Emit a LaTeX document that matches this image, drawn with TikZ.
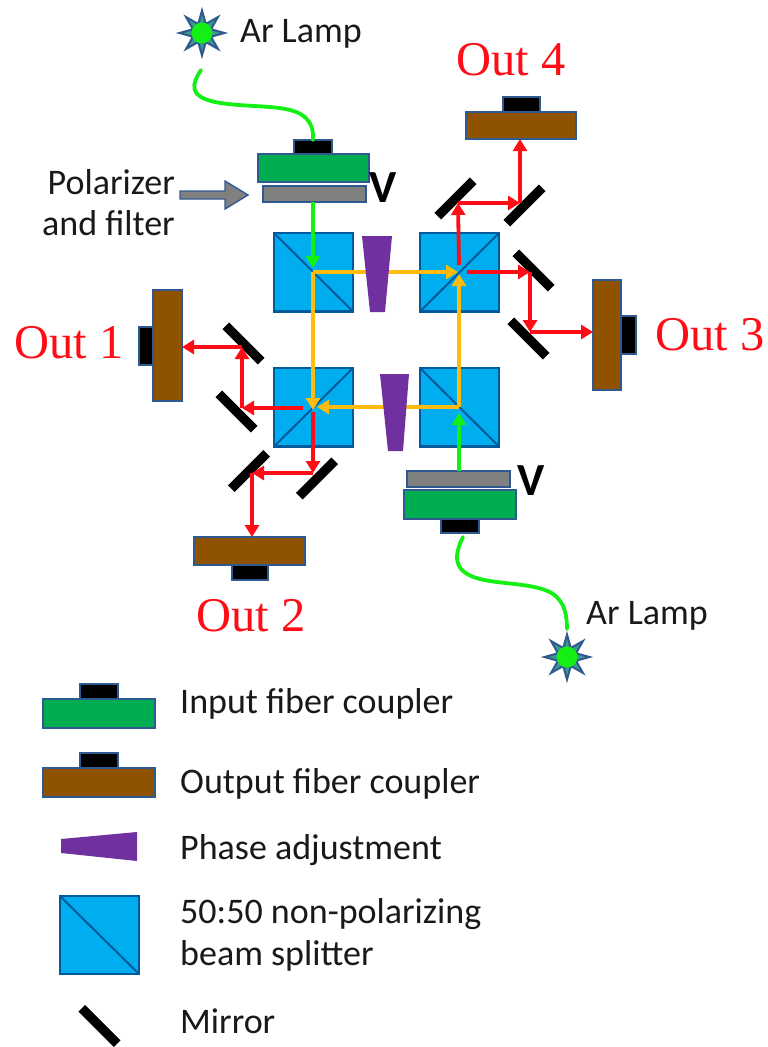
\documentclass[tikz,border=0pt]{standalone}
\usepackage{fontspec}
\setmainfont{Carlito}
\newfontfamily\outfont{Liberation Serif}
\usetikzlibrary{arrows.meta,shapes.geometric}
\definecolor{edgeblue}{HTML}{2F5A8F}
\definecolor{bsblue}{HTML}{00AEEF}
\definecolor{bsedge}{HTML}{005A9C}
\definecolor{coupgreen}{HTML}{00AD50}
\definecolor{coupbrown}{HTML}{8F5200}
\definecolor{prism}{HTML}{7030A0}
\definecolor{gold}{HTML}{FFBC0F}
\definecolor{beamgreen}{HTML}{14F014}
\definecolor{beamred}{HTML}{FF0D17}
\definecolor{polgrey}{HTML}{808080}
\definecolor{startl}{HTML}{3C9A8C}
\tikzset{
  block/.style={draw=edgeblue,line width=1.8pt,inner sep=0pt,outer sep=0pt},
  infill/.style={block,fill=coupgreen},
  outfill/.style={block,fill=coupbrown},
  plug/.style={block,fill=black},
  polfill/.style={block,fill=polgrey},
  bscube/.style={draw=bsedge,line width=2.8pt,fill=bsblue,inner sep=0pt,outer sep=0pt},
  bsdiag/.style={draw=bsedge,line width=2pt},
  mirrorbar/.style={fill=black,inner sep=0pt,outer sep=0pt,minimum width=50pt,minimum height=9.5pt},
  rbeam/.style={draw=beamred,line width=3.8pt,-{Triangle[length=12pt,width=14pt]}},
  ybeam/.style={draw=gold,line width=3.8pt,-{Triangle[length=12pt,width=14pt]}},
  gbeam/.style={draw=beamgreen,line width=3.8pt,-{Triangle[length=12pt,width=14pt]}},
  fiber/.style={draw=beamgreen,line width=3.8pt,line cap=round},
  prismfill/.style={fill=prism},
  lampstar/.style={star,star points=8,star point ratio=2.3,minimum size=45pt,inner sep=0pt,draw=edgeblue,line width=2pt,fill=startl},
  lampcore/.style={circle,fill=beamgreen,minimum size=21pt,inner sep=0pt},
  lab/.style={anchor=base west,inner sep=0pt,text=black!90,font=\fontsize{36}{40}\selectfont},
  outlab/.style={anchor=base west,inner sep=0pt,text=beamred,font=\outfont\fontsize{48.5}{52}\selectfont},
  vlab/.style={anchor=base west,inner sep=0pt,font=\bfseries\fontsize{46}{48}\selectfont},
}
\newcommand{\rbox}[6]{% style, name, x1,y1,x2,y2
  \pgfmathsetmacro{\rbw}{#5-#3}\pgfmathsetmacro{\rbh}{#6-#4}
  \pgfmathsetmacro{\rbx}{(#3+#5)/2}\pgfmathsetmacro{\rby}{(#4+#6)/2}
  \node[#1,minimum width=\rbw pt,minimum height=\rbh pt] (#2) at (\rbx,\rby) {};
}
\begin{document}
\begin{tikzpicture}[x=1pt,y=-1pt]
\useasboundingbox (0,0) rectangle (768,1047);
% junctions
\coordinate (tl) at (313,272);
\coordinate (trin) at (458,272);
\coordinate (trup) at (459,265);
\coordinate (tror) at (467,272);
\coordinate (trv) at (459,274);
\coordinate (br) at (459,407);
\coordinate (blh) at (317,407);
\coordinate (blv) at (313,410);
\coordinate (blo) at (303,408);
\coordinate (bld) at (313,412);
\coordinate (gin1) at (313,202);
\coordinate (gin2) at (459,471);
\coordinate (gt1) at (313,268);
\coordinate (gt2) at (459,413);
\coordinate (m1) at (458,203);
\coordinate (m2) at (520,203);
\coordinate (m3) at (530,272);
\coordinate (m4) at (530,332);
\coordinate (m5) at (242,408);
\coordinate (m6) at (242,347);
\coordinate (m7) at (313,473);
\coordinate (m8) at (252,473);
\coordinate (fa1) at (201,70);
\coordinate (fa2) at (463,537);
% cubes
\foreach \nm/\xa/\ya in {bsa/274/233,bsb/420/233,bsc/274/368,bsd/420/368}{
  \pgfmathsetmacro{\xb}{\xa+79}\pgfmathsetmacro{\yb}{\ya+78.5}
  \rbox{bscube}{\nm}{\xa}{\ya}{\xb}{\yb}
}
\draw[bsdiag] (bsa.north west) -- (bsa.south east);
\draw[bsdiag] (bsb.south west) -- (bsb.north east);
\draw[bsdiag] (bsc.south west) -- (bsc.north east);
\draw[bsdiag] (bsd.north west) -- (bsd.south east);
% couplers
\rbox{plug}{ip1}{294}{140}{332}{154}
\rbox{infill}{ic1}{258}{154}{369}{182}
\rbox{polfill}{pf1}{263}{186}{366}{202}
\rbox{polfill}{pf2}{407}{471}{510}{487}
\rbox{infill}{ic2}{404}{490}{516}{519}
\rbox{plug}{ip2}{441}{519}{479}{533}
\rbox{plug}{op4}{503}{97}{540}{112}
\rbox{outfill}{oc4}{466}{112}{576}{139}
\rbox{plug}{op3}{621}{316}{636}{354}
\rbox{outfill}{oc3}{593}{280}{621}{390}
\rbox{plug}{op1}{139}{327}{153}{365}
\rbox{outfill}{oc1}{153}{290}{182}{401}
\rbox{plug}{op2}{232}{565}{268}{580}
\rbox{outfill}{oc2}{194}{537}{305}{565}
% mirrors
\node[mirrorbar,rotate=45] (ma) at (455.5,198.5) {};
\node[mirrorbar,rotate=45] (mb) at (524.5,205.5) {};
\node[mirrorbar,rotate=-45] (mc) at (533.5,270.5) {};
\node[mirrorbar,rotate=-45] (md) at (528.5,338.5) {};
\node[mirrorbar,rotate=-45] (me) at (243.5,343.5) {};
\node[mirrorbar,rotate=-45] (mf) at (236.5,411.5) {};
\node[mirrorbar,rotate=45] (mg) at (317,478.5) {};
\node[mirrorbar,rotate=45] (mh) at (249,471) {};
% beams
\draw[ybeam] (tl) -- (trin);
\draw[ybeam] (tl) -- (blv);
\draw[ybeam] (br) -- (trv);
\draw[ybeam] (br) -- (blh);
\draw[gbeam] (gin1) -- (gt1);
\draw[gbeam] (gin2) -- (gt2);
\draw[rbeam] (trup) -- (m1);
\draw[rbeam] (m1) -- (m2);
\draw[rbeam] (m2) -- (oc4.south -| m2);
\draw[rbeam] (tror) -- (m3);
\draw[rbeam] (m3) -- (m4);
\draw[rbeam] (m4) -- (oc3.west |- m4);
\draw[rbeam] (blo) -- (m5);
\draw[rbeam] (m5) -- (m6);
\draw[rbeam] (m6) -- (oc1.east |- m6);
\draw[rbeam] (bld) -- (m7);
\draw[rbeam] (m7) -- (m8);
\draw[rbeam] (m8) -- (oc2.north -| m8);
% prisms
\fill[prismfill] (362,236) -- (392,236) -- (385,312) -- (370,312) -- cycle;
\fill[prismfill] (380,374) -- (409,374) -- (403,451) -- (388,451) -- cycle;
% lamps
\node[lampstar] (s1) at (202,33) {};
\node[lampcore] (c1) at (202,33) {};
\node[lampstar] (s2) at (567,657) {};
\node[lampcore] (c2) at (567,657) {};
% fibers
\draw[fiber] (fa1) .. controls (192,84) and (188,96) .. (215,102) .. controls (240,107) and (270,105) .. (290,110) .. controls (310,115) and (314,128) .. (ip1.north);
\draw[fiber] (fa2) .. controls (454,555) and (452,572) .. (480,579) .. controls (500,584) and (525,583) .. (545,590) .. controls (562,596) and (567,610) .. (567,629);
% polarizer arrow
\draw[fill=polgrey,draw=edgeblue,line width=1.4pt] (180,191) -- (225,191) -- (225,181) -- (248,195) -- (225,209) -- (225,199) -- (180,199) -- cycle;
% labels
\node[lab] (t1) at (240,42) {Ar Lamp};
\node[lab] (t2) at (586,624) {Ar Lamp};
\node[lab,anchor=base east] (t3) at (175,194) {Polarizer};
\node[lab,anchor=base east] (t4) at (175,235) {and filter};
\node[vlab] (v1) at (369,202) {V};
\node[vlab] (v2) at (517,495) {V};
\node[outlab] (o4) at (456,75) {Out 4};
\node[outlab] (o3) at (655,350) {Out 3};
\node[outlab] (o1) at (14,358) {Out 1};
\node[outlab] (o2) at (196,631) {Out 2};
% legend
\rbox{plug}{lp1}{80}{684}{118}{699}
\rbox{infill}{lc1}{43}{699}{155}{728}
\rbox{plug}{lp2}{80}{753}{118}{768}
\rbox{outfill}{lc2}{43}{768}{155}{797}
\fill[prismfill] (61,839) -- (137,832) -- (137,861) -- (61,853) -- cycle;
\rbox{bscube}{lb}{60}{896}{139}{974}
\draw[bsdiag] (lb.north west) -- (lb.south east);
\node[mirrorbar,rotate=-45] (lm) at (99.5,1026) {};
\node[lab] (l1) at (180,713) {Input fiber coupler};
\node[lab] (l2) at (180,793) {Output fiber coupler};
\node[lab] (l3) at (180,859) {Phase adjustment};
\node[lab] (l4) at (180,923) {50:50 non-polarizing};
\node[lab] (l5) at (180,965) {beam splitter};
\node[lab] (l6) at (180,1033) {Mirror};
\end{tikzpicture}
\end{document}
